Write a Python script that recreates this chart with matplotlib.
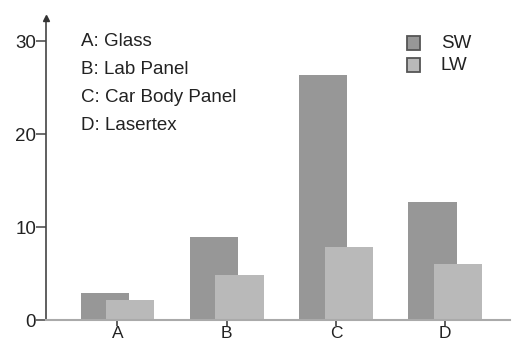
import matplotlib.pyplot as plt
import numpy as np

plt.rcParams['font.family'] = ['Liberation Sans', 'DejaVu Sans']

categories = ['A', 'B', 'C', 'D']
sw = [2.9, 8.9, 26.3, 12.7]
lw = [2.1, 4.8, 7.9, 6.0]
notes = ['A: Glass', 'B: Lab Panel', 'C: Car Body Panel', 'D: Lasertex']

sw_color = '#979797'
lw_color = '#b9b9b9'
txt = '#222222'
fs = 13.5

fig = plt.figure(figsize=(5.16, 3.43), dpi=100)
ax = fig.add_axes([0.089, 0.067, 0.899, 0.881])

x = np.arange(len(categories))
ax.bar(x - 0.117, sw, width=0.44, color=sw_color, zorder=2)
ax.bar(x + 0.117, lw, width=0.44, color=lw_color, zorder=3)

ax.set_xlim(-0.654, 3.59)
ax.set_ylim(0, 32.5)

for s in ['top', 'right']:
    ax.spines[s].set_visible(False)
ax.spines['left'].set_color('#444444')
ax.spines['left'].set_linewidth(1.2)
ax.spines['bottom'].set_color('#aaaaaa')
ax.spines['bottom'].set_linewidth(1.5)
ax.spines['bottom'].set_zorder(4)

# arrow on y axis
ax.plot([-0.654], [32.5], marker='^', color='#333333', markersize=5,
        clip_on=False, zorder=5)

ax.set_yticks([0, 10, 20, 30])
ax.tick_params(axis='y', direction='out', length=7, width=1.1,
               color='#444444', labelsize=fs, labelcolor=txt, pad=0)
ax.set_xticks(x)
ax.set_xticklabels(categories)
ax.tick_params(axis='x', direction='out', length=4, width=1.1,
               color='#333333', labelsize=12.5, labelcolor=txt, pad=0)

# notes, placed in pixels from the top-left
for i, n in enumerate(notes):
    fig.text(81 / 516, (343 - 41 - 28 * i) / 343, n, fontsize=fs, color=txt,
             va='center', ha='left')

# legend boxes
for j, (lab, c) in enumerate([('SW', sw_color), ('LW', lw_color)]):
    yc = 43 + 22 * j
    fig.patches.append(plt.Rectangle((407 / 516, (343 - yc - 7) / 343),
                                     13 / 516, 14 / 343, transform=fig.transFigure,
                                     facecolor=c, edgecolor='#555555', lw=1.3))
    fig.text(441 / 516, (343 - yc) / 343, lab, fontsize=fs, color=txt,
             va='center', ha='left')

fig.savefig('out.png', dpi=100)
